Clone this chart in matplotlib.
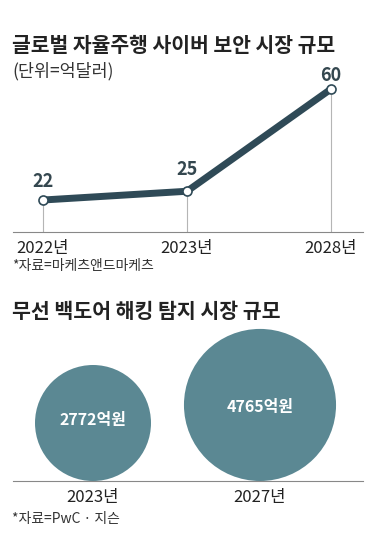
import numpy as np
import matplotlib
matplotlib.use("Agg")
import matplotlib.pyplot as plt
from matplotlib.patches import Circle

plt.rcParams['font.family'] = ['Noto Sans CJK KR', 'DejaVu Sans']

# chart 1: global autonomous-driving cyber security market (100M USD)
years1 = ["2022년", "2023년", "2028년"]
values1 = [22, 25, 60]
label_off = [13, 16, 10]

# chart 2: wireless backdoor hacking detection market (100M KRW)
years2 = ["2023년", "2027년"]
values2 = [2772, 4765]

W, H = 376, 536
line_c = "#2f4a57"
bubble_c = "#5b8893"
text_c = "#222222"

fig = plt.figure(figsize=(W / 100, H / 100), dpi=100)
fig.patch.set_facecolor("white")


def ax_px(left, top, right, bottom):
    return fig.add_axes([left / W, 1 - bottom / H, (right - left) / W, (bottom - top) / H])


def ftext(x, y, s, **kw):
    fig.text(x / W, 1 - y / H, s, va="center", **kw)


ftext(12, 45, "글로벌 자율주행 사이버 보안 시장 규모", fontsize=14.7, fontweight="bold", color=text_c)
ftext(12, 71, "(단위=억달러)", fontsize=12.5, color="#333333")

# ---- line chart ----
ax = ax_px(13, 60, 363, 232)
x = np.arange(len(values1))
ax.set_xlim(-0.208, 2.222)
ax.set_ylim(11.05, 69.93)
ax.vlines(x, 11.05, values1, color="#b5b5b5", lw=0.8, zorder=1)
ax.plot(x, values1, color=line_c, lw=5, solid_capstyle="butt", zorder=2)
ax.plot(x, values1, "o", ms=6.5, mfc="white", mec=line_c, mew=1.2, zorder=3)
for xi, v, off in zip(x, values1, label_off):
    ax.annotate(str(v), (xi, v), xytext=(0, off), textcoords="offset points",
                ha="center", va="center", fontsize=13, fontweight="bold",
                color="#34474f")
for s in ["top", "right", "left"]:
    ax.spines[s].set_visible(False)
ax.spines["bottom"].set_color("#888888")
ax.spines["bottom"].set_linewidth(0.8)
ax.set_yticks([])
ax.set_xticks(x)
ax.set_xticklabels(years1, fontsize=12, color=text_c)
ax.tick_params(axis="x", length=0, pad=6)
ax.patch.set_alpha(0)

ftext(12, 266, "*자료=마케츠앤드마케츠", fontsize=10, color="#333333")

# ---- bubble chart ----
ftext(12, 311, "무선 백도어 해킹 탐지 시장 규모", fontsize=14.8, fontweight="bold", color=text_c)

bx = ax_px(13, 320, 363, 481)
unit = 167.0  # px per data unit
xl = (-(93 - 13) / unit, (363 - 93) / unit)
bx.set_xlim(*xl)
bx.set_ylim(0, (481 - 320) / unit)
k = (58 / unit) / np.sqrt(values2[0])
for i, v in enumerate(values2):
    r = k * np.sqrt(v)
    bx.add_patch(Circle((i, r), r, color=bubble_c, lw=0))
    bx.text(i, r + (0.02 if i == 0 else -0.01), f"{v}억원", ha="center", va="center",
            color="white", fontsize=11.5, fontweight="bold")
for s in ["top", "right", "left"]:
    bx.spines[s].set_visible(False)
bx.spines["bottom"].set_color("#888888")
bx.spines["bottom"].set_linewidth(0.8)
bx.set_yticks([])
bx.set_xticks(range(len(years2)))
bx.set_xticklabels(years2, fontsize=12, color=text_c)
bx.tick_params(axis="x", length=0, pad=6)
bx.patch.set_alpha(0)

ftext(12, 519, "*자료=PwC · 지슨", fontsize=10, color="#333333")

fig.savefig("out.png", dpi=100, facecolor="white")
